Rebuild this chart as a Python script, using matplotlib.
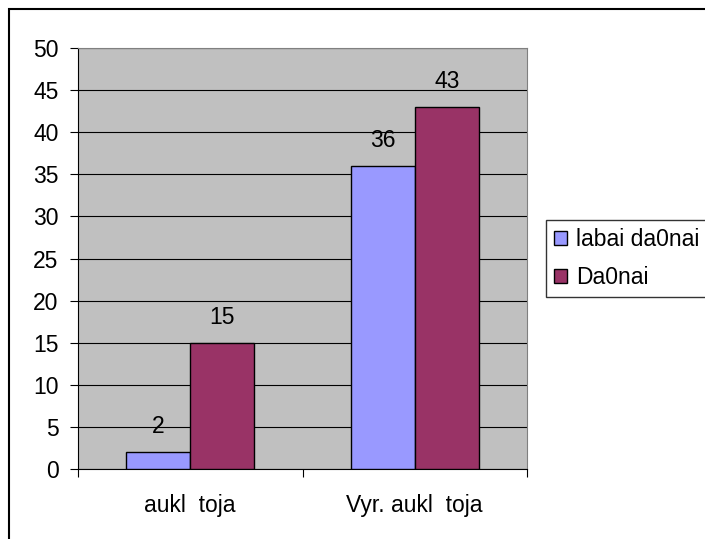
import numpy as np
import matplotlib
matplotlib.use('Agg')
import matplotlib.pyplot as plt
from matplotlib.patches import Rectangle

plt.rcParams['font.family'] = ['Liberation Sans', 'DejaVu Sans']

categories = ['aukl  toja', 'Vyr. aukl  toja']
series_names = ['labai da0nai', 'Da0nai']
labai = [2, 36]
danai = [15, 43]
colors = ['#9999FF', '#993366']
FS = 16.5

W, H = 705, 539
fig = plt.figure(figsize=(W / 100, H / 100), dpi=100)
# outer chart border (only top/left visible in frame)
fig.patches.append(Rectangle((9 / W, -0.05), 1.1, 1 - 9 / H + 0.05,
                             transform=fig.transFigure, fill=False,
                             edgecolor='black', linewidth=1.5))

ax = fig.add_axes([78 / W, 1 - 469 / H, (527 - 78) / W, (469 - 48) / H])
ax.set_facecolor('#C0C0C0')

x = np.arange(len(categories))
bw = 1 / 3.5
for i, (vals, name) in enumerate(zip([labai, danai], series_names)):
    pos = x + (i - 0.5) * bw
    ax.bar(pos, vals, width=bw, color=colors[i], edgecolor='black',
           linewidth=1, label=name, zorder=3)
    for xb, v in zip(pos, vals):
        ax.annotate(str(v), (xb, v), xytext=(0, 10), textcoords='offset points',
                    ha='center', va='bottom', fontsize=FS)

ax.set_xlim(-0.5, 1.5)
ax.set_ylim(0, 50)
ax.set_yticks(range(0, 51, 5))
ax.yaxis.grid(True, color='black', linewidth=0.8, zorder=1)
ax.set_axisbelow(True)
ax.set_xticks([-0.5, 0.5, 1.5])
ax.set_xticklabels([])
ax.set_xticks(x, minor=True)
ax.set_xticklabels(categories, minor=True)
ax.tick_params(axis='x', which='minor', length=0, pad=18, labelsize=FS)
ax.tick_params(axis='x', which='major', length=6, direction='out')
ax.tick_params(axis='y', length=6, direction='out', labelsize=FS, pad=8)
for s in ['top', 'right']:
    ax.spines[s].set_color('#808080')
for s in ['left', 'bottom']:
    ax.spines[s].set_color('black')

leg = fig.legend(loc='upper left', bbox_to_anchor=(546 / W, 1 - 220 / H),
                 frameon=True, fancybox=False, edgecolor='black',
                 fontsize=FS, handlelength=0.55, handleheight=0.55,
                 handletextpad=0.4, borderpad=0.35, labelspacing=0.65,
                 borderaxespad=0)
leg.get_frame().set_linewidth(1)

fig.savefig('out.png', dpi=100)
